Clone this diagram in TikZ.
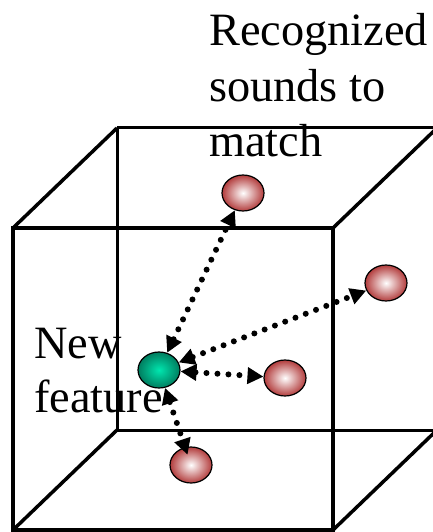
\documentclass[tikz,border=0pt]{standalone}
\usepackage{fontspec}
\setmainfont{Liberation Serif}
\usetikzlibrary{arrows.meta,shapes.geometric}
\begin{document}
\begin{tikzpicture}[x=1bp,y=-1bp,
  front/.style={line width=4bp},
  back/.style={line width=3bp},
  edge/.style={line width=3.5bp},
  ball/.style={ellipse,draw=black,line width=1.2bp,minimum width=42bp,minimum height=36bp,inner sep=0pt},
  redball/.style={ball,shading=radial,inner color=white,outer color={rgb,255:red,178;green,60;blue,60}},
  greenball/.style={ball,shading=radial,inner color={rgb,255:red,0;green,230;blue,175},outer color={rgb,255:red,0;green,125;blue,95}},
  link/.style={line width=6bp,line cap=round,dash pattern=on 0bp off 11bp,
    {Triangle[length=16bp,width=16bp]}-{Triangle[length=16bp,width=16bp]}},
  label/.style={font=\fontsize{46.5}{56}\selectfont,align=left,inner sep=0pt,anchor=north west}]
\useasboundingbox (0,0) rectangle (433,532);

% back face
\draw[back] (117,128) -- (437,128);
\draw[back] (117,128) -- (117,430) -- (437,430);
% receding edges
\draw[edge] (13,228) -- (117,128);
\draw[edge] (333,228) -- (437,128);
\draw[edge] (13,530) -- (117,430);
\draw[edge] (333,530) -- (437,430);
% front face
\draw[front] (13,228) rectangle (333,530);

% labels
\node[label] (sounds) at (209,13) {Recognized\\sounds to\\match};
\node[label,font=\fontsize{46.5}{54}\selectfont] (newlbl) at (34,328) {New\\feature};

% feature points
\node[redball] (r1) at (243,193) {};
\node[redball] (r2) at (386,283) {};
\node[redball] (r3) at (285,378) {};
\node[redball] (r4) at (191,465) {};
\node[greenball] (g) at (159,370) {};

% distances from the new feature
\draw[link] (g) -- (r1);
\draw[link] (g) -- (r2);
\draw[link] (g) -- (r3);
\draw[link,shorten >=-8bp] (g) -- (r4);
\end{tikzpicture}
\end{document}
